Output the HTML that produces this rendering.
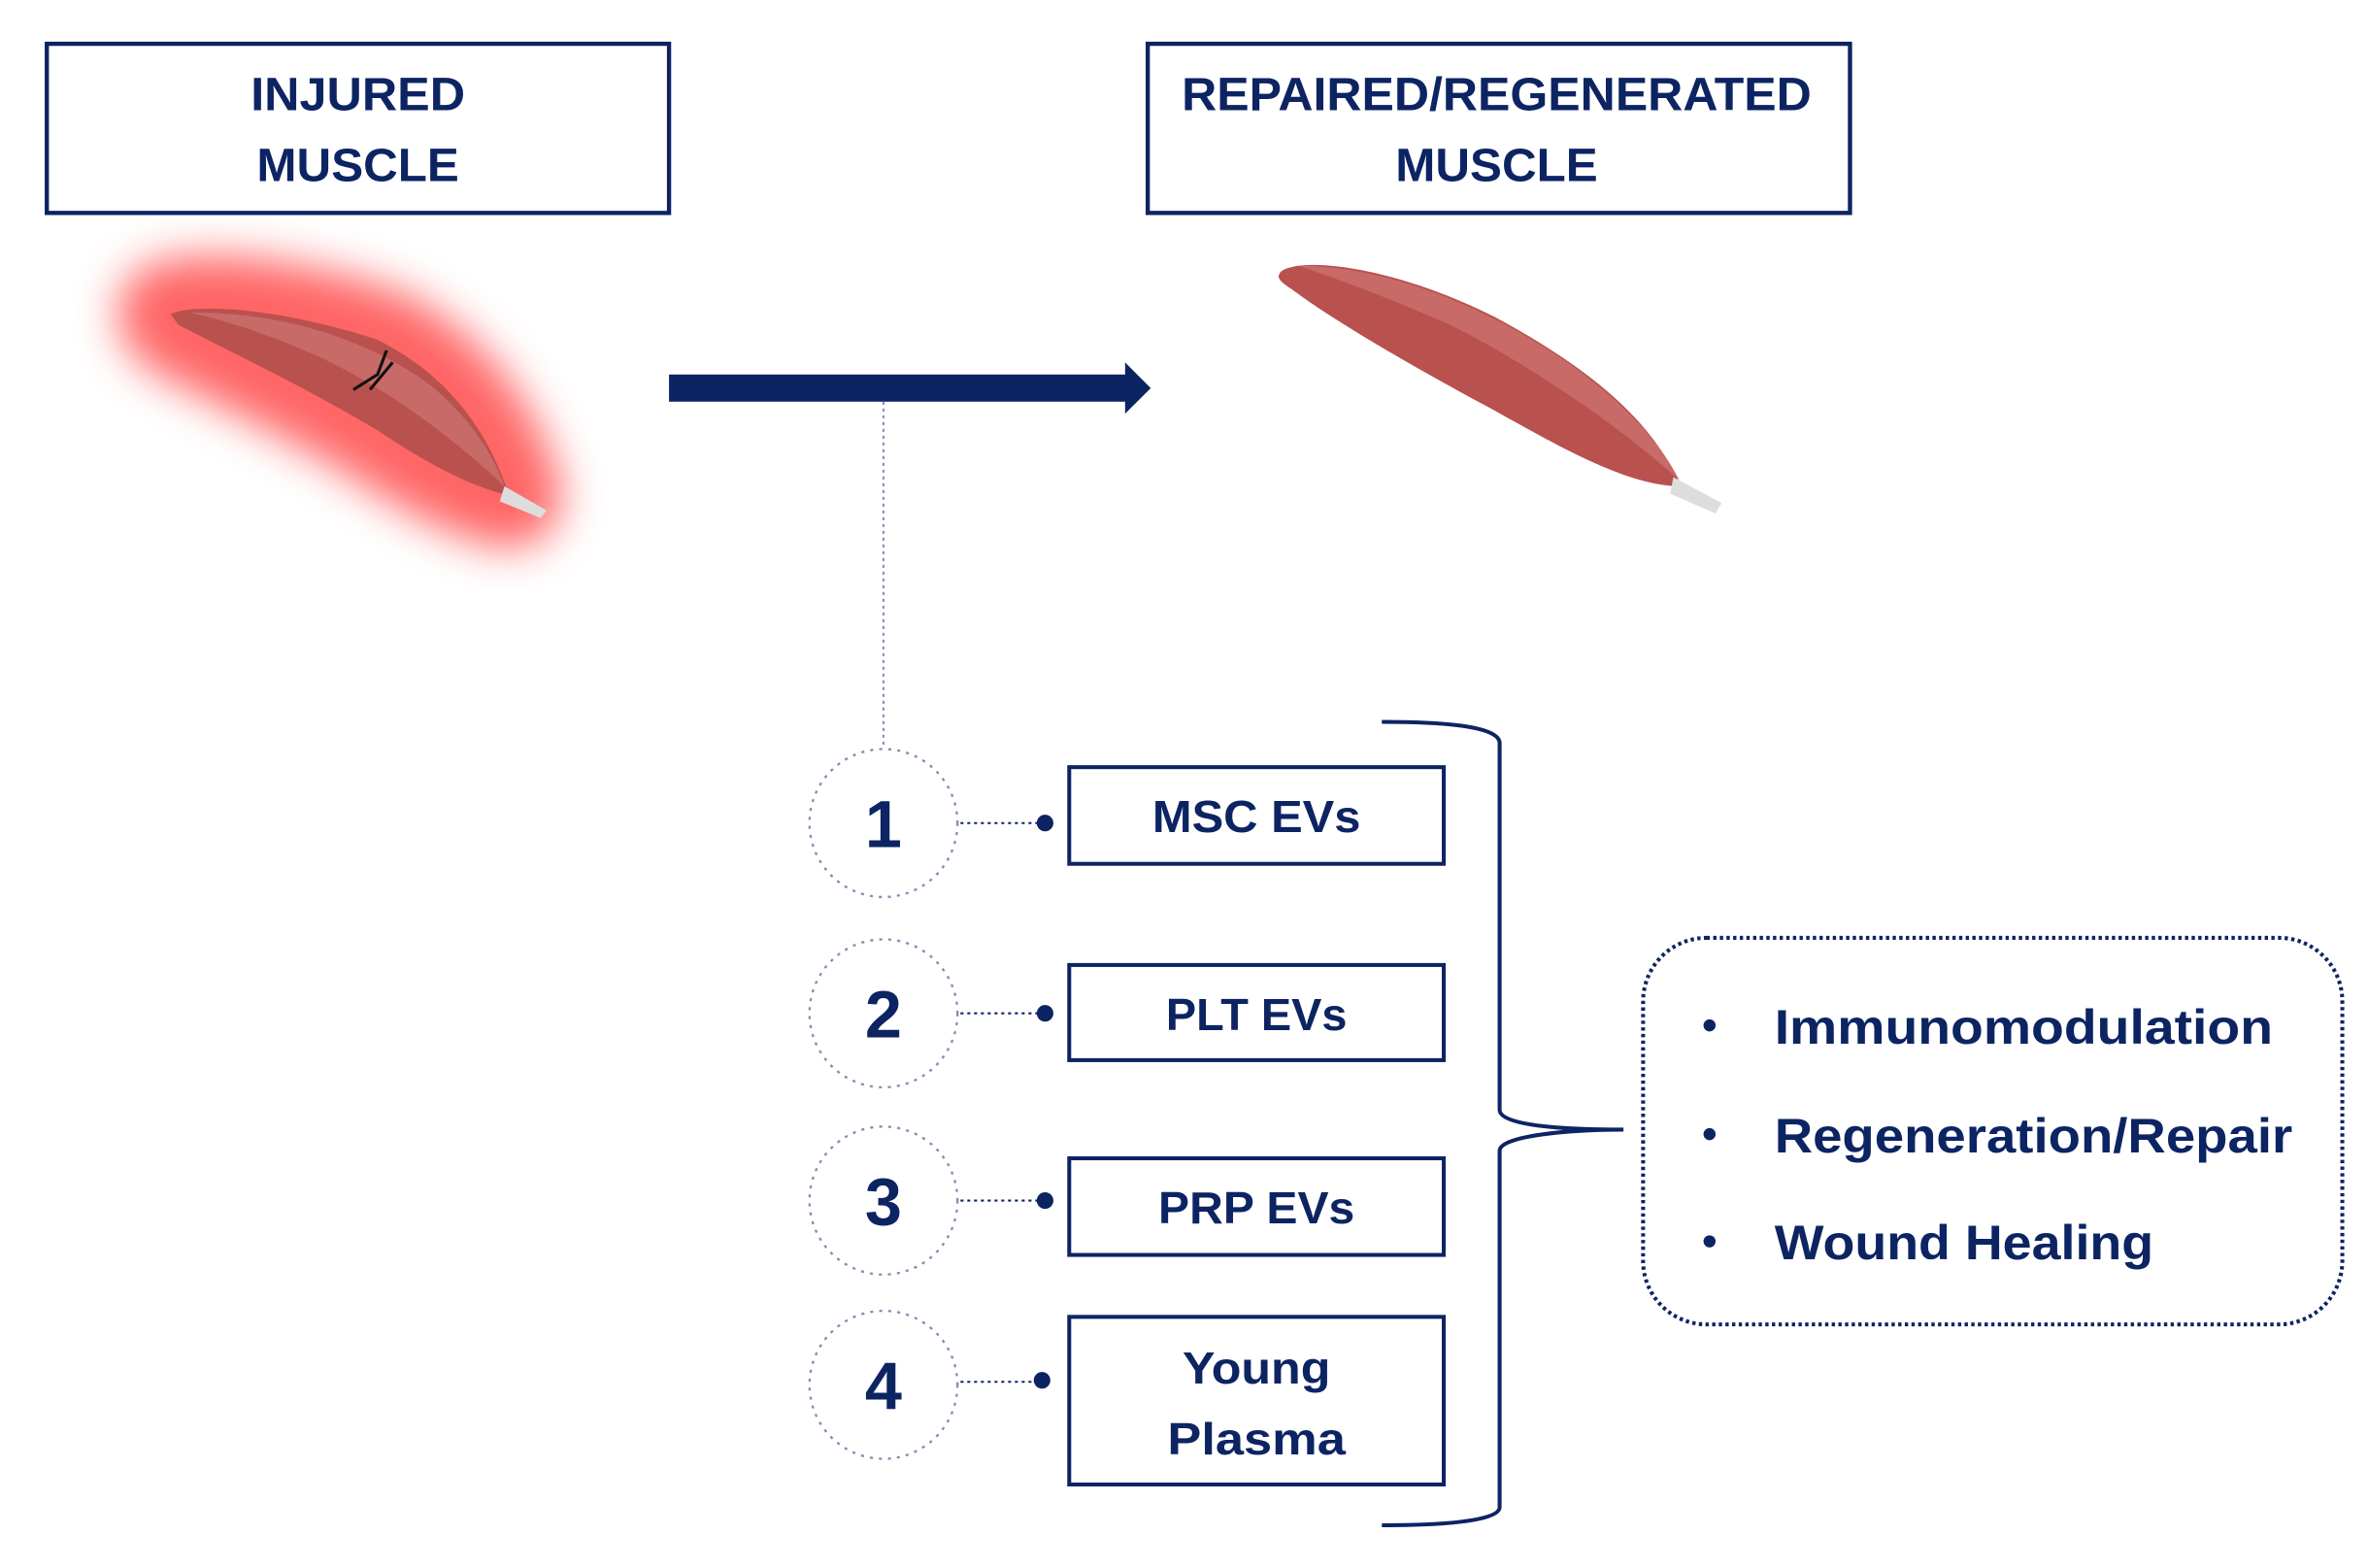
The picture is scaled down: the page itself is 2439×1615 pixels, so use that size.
<!DOCTYPE html>
<html><head><meta charset="utf-8"><style>html,body{margin:0;padding:0;background:#fff}svg{display:block}</style></head>
<body>
<svg width="2439" height="1615" viewBox="0 0 1568 1038.3" preserveAspectRatio="none" xmlns="http://www.w3.org/2000/svg" font-family="Liberation Sans, sans-serif" font-weight="bold" fill="#0d2463">
<defs>
<filter id="blur" x="-50%" y="-50%" width="200%" height="200%"><feGaussianBlur stdDeviation="14"/></filter>
</defs>
<rect x="31" y="29" width="412" height="112" fill="none" stroke="#0d2463" stroke-width="2.8"/>
<text x="237" y="73" font-size="31" text-anchor="middle" textLength="142" lengthAdjust="spacingAndGlyphs">INJURED</text>
<text x="237" y="120" font-size="31" text-anchor="middle" textLength="134" lengthAdjust="spacingAndGlyphs">MUSCLE</text>
<rect x="760" y="29" width="465" height="112" fill="none" stroke="#0d2463" stroke-width="2.8"/>
<text x="991" y="73" font-size="31" text-anchor="middle" textLength="417" lengthAdjust="spacingAndGlyphs">REPAIRED/REGENERATED</text>
<text x="991" y="120" font-size="31" text-anchor="middle" textLength="134" lengthAdjust="spacingAndGlyphs">MUSCLE</text>
<!-- injured muscle -->
<path d="M113,208 C130,200 190,205 250,225 C300,250 325,290 337,328 C310,322 280,305 250,285 C200,255 150,232 118,215 Z" fill="#ff4d4d" stroke="#ff5555" stroke-width="70" stroke-linejoin="round" filter="url(#blur)" opacity="0.9"/>
<path d="M113,208 C130,200 190,205 250,225 C300,250 325,290 337,328 C310,322 280,305 250,285 C200,255 150,232 118,215 Z" fill="#b9514f"/>
<path d="M125,207 C180,206 240,222 285,255 C315,280 328,305 334,322 C300,290 260,260 215,238 C180,222 150,212 125,207 Z" fill="#c86a67"/>
<path d="M334,322 L362,338 L358,343 L331,332 Z" fill="#ddd"/>
<path d="M256,232 L250,248 L234,258 M245,258 L260,240" stroke="#111" stroke-width="2" fill="none"/>
<!-- healthy muscle -->
<path d="M848,180 C860,170 920,175 990,210 C1055,245 1095,280 1113,322 C1080,322 1040,300 990,272 C930,240 880,210 856,192 C847,186 845,184 848,180 Z" fill="#b9514f"/>
<path d="M860,176 C920,176 990,205 1045,245 C1085,275 1103,300 1112,318 C1070,280 1010,240 960,215 C910,193 880,183 860,176 Z" fill="#c86a67"/>
<path d="M1108,316 L1140,333 L1136,340 L1106,327 Z" fill="#ddd"/>
<!-- arrow -->
<rect x="443" y="248" width="304" height="18" fill="#0d2463"/>
<polygon points="745,240 762,257 745,274" fill="#0d2463"/>
<line x1="585" y1="266" x2="585" y2="494" stroke="#8090b0" stroke-width="1.3" stroke-dasharray="2,2.5"/>
<g fill="none" stroke="#8090b0" stroke-width="1.5" stroke-dasharray="2,4">
<circle cx="585" cy="545" r="49"/><circle cx="585" cy="671" r="49"/><circle cx="585" cy="795" r="49"/><circle cx="585" cy="917" r="49"/>
</g>
<g font-size="44" text-anchor="middle">
<text x="585" y="561">1</text><text x="585" y="687">2</text><text x="585" y="811">3</text><text x="585" y="933">4</text>
</g>
<g stroke="#0d2463" stroke-width="1.3" stroke-dasharray="2,2.5">
<line x1="636" y1="545" x2="692" y2="545"/><line x1="636" y1="671" x2="692" y2="671"/><line x1="636" y1="795" x2="692" y2="795"/><line x1="636" y1="915" x2="692" y2="915"/>
</g>
<circle cx="692" cy="545" r="5.5"/><circle cx="692" cy="671" r="5.5"/><circle cx="692" cy="795" r="5.5"/><circle cx="690" cy="914" r="5.5"/>
<g fill="none" stroke="#0d2463" stroke-width="2.6">
<rect x="708" y="508" width="248" height="64"/><rect x="708" y="639" width="248" height="63"/><rect x="708" y="767" width="248" height="64"/><rect x="708" y="872" width="248" height="111"/>
</g>
<g font-size="30" text-anchor="middle">
<text x="832" y="551" textLength="138" lengthAdjust="spacingAndGlyphs">MSC EVs</text>
<text x="832" y="682" textLength="120" lengthAdjust="spacingAndGlyphs">PLT EVs</text>
<text x="832" y="810" textLength="130" lengthAdjust="spacingAndGlyphs">PRP EVs</text>
<text x="832" y="916" textLength="98" lengthAdjust="spacingAndGlyphs">Young</text>
<text x="832" y="963" textLength="118" lengthAdjust="spacingAndGlyphs">Plasma</text>
</g>
<path d="M915,478 C950,478 993,480 993,492 L993,735 C993,746 1040,748 1075,748 C1040,748 993,752 993,762 L993,998 C993,1008 950,1010 915,1010" fill="none" stroke="#0d2463" stroke-width="2.6"/>
<rect x="1088" y="621" width="463" height="256" rx="42" fill="none" stroke="#0d2463" stroke-width="2.6" stroke-dasharray="2.2,2.2"/>
<circle cx="1132" cy="679" r="4"/><circle cx="1132" cy="751" r="4"/><circle cx="1132" cy="822" r="4"/>
<g font-size="32">
<text x="1175" y="691" textLength="330" lengthAdjust="spacingAndGlyphs">Immunomodulation</text>
<text x="1175" y="763" textLength="343" lengthAdjust="spacingAndGlyphs">Regeneration/Repair</text>
<text x="1175" y="834" textLength="251" lengthAdjust="spacingAndGlyphs">Wound Healing</text>
</g>
</svg>
</body></html>
